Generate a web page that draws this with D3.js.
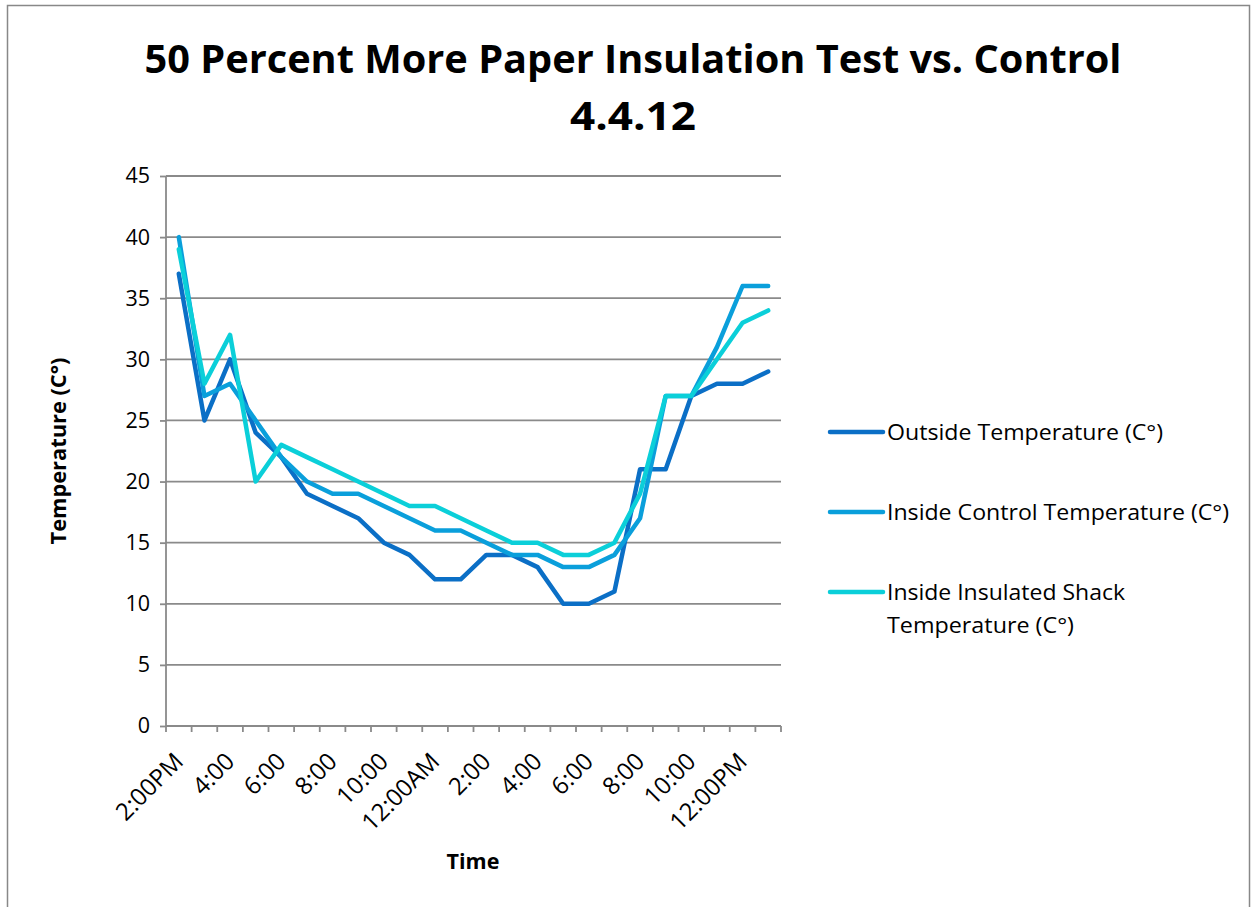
<!DOCTYPE html>
<html><head><meta charset="utf-8">
<script src="https://cdn.jsdelivr.net/npm/d3@7"></script>
<style>body{margin:0;background:#fff;}svg{display:block;}</style>
</head><body>
<svg id="c" width="1256" height="907"></svg>
<script>
const categories = ["2:00PM","3:00","4:00","5:00","6:00","7:00","8:00","9:00","10:00","11:00","12:00AM","1:00","2:00","3:00","4:00","5:00","6:00","7:00","8:00","9:00","10:00","11:00","12:00PM","1:00PM"];
const tickLabels = ["2:00PM","","4:00","","6:00","","8:00","","10:00","","12:00AM","","2:00","","4:00","","6:00","","8:00","","10:00","","12:00PM",""];
const outside   = [37,25,30,24,22,19,18,17,15,14,12,12,14,14,13,10,10,11,21,21,27,28,28,29];
const control   = [40,27,28,25,22,20,19,19,18,17,16,16,15,14,14,13,13,14,17,27,27,31,36,36];
const insulated = [39,28,32,20,23,22,21,20,19,18,18,17,16,15,15,14,14,15,19,27,27,30,33,34];
const seriesNames = ["Outside Temperature (C°)","Inside Control Temperature (C°)","Inside Insulated Shack Temperature (C°)"];
const yTicks = [0,5,10,15,20,25,30,35,40,45];

const colors = ["#0B6FC6","#0A9FDB","#0BCFD9"];
const font = "'Open Sans', 'Liberation Sans', sans-serif";
const svg = d3.select("#c");
svg.append("rect").attr("x",7.5).attr("y",5.5).attr("width",1242).attr("height",940)
  .attr("fill","#fff").attr("stroke","#888").attr("stroke-width",1.5);

const L = 166, R = 781, T = 176, B = 726;
const idx = categories.map((d,i)=>i);
const x = d3.scaleBand().domain(idx).range([L,R]);
const y = d3.scaleLinear().domain([0,45]).range([B,T]);

// gridlines
svg.append("g").selectAll("line").data(yTicks.filter(d=>d>0)).join("line")
  .attr("x1",L).attr("x2",R).attr("y1",d=>y(d)).attr("y2",d=>y(d))
  .attr("stroke","#8a8a8a").attr("stroke-width",1.8);

// y axis
const ya = svg.append("g").attr("transform",`translate(${L},0)`)
  .call(d3.axisLeft(y).tickValues(yTicks).tickSize(6).tickPadding(10));
ya.select(".domain").attr("stroke","#8a8a8a").attr("stroke-width",1.8).attr("d",`M0,${T}V${B}`);
ya.selectAll(".tick line").attr("stroke","#8a8a8a").attr("stroke-width",1.8);
ya.selectAll(".tick text").attr("font-family",font).attr("font-size",21.5).attr("fill","#000");

// x axis
const xa = svg.append("g").attr("transform",`translate(0,${B})`);
xa.append("line").attr("x1",L).attr("x2",R).attr("y1",0).attr("y2",0).attr("stroke","#8a8a8a").attr("stroke-width",1.8);
const tickPos = idx.map(i=>x(i)).concat([R]);
xa.selectAll("line.tk").data(tickPos).join("line").attr("class","tk")
  .attr("x1",d=>d).attr("x2",d=>d).attr("y1",0).attr("y2",6).attr("stroke","#8a8a8a").attr("stroke-width",1.8);
xa.selectAll("text").data(idx.filter(i=>tickLabels[i])).join("text")
  .attr("transform",i=>`translate(${x(i)+x.bandwidth()/2},${31}) rotate(-45)`)
  .attr("text-anchor","end").attr("dy","0.35em")
  .attr("font-family",font).attr("font-size",24).attr("fill","#000")
  .text(i=>tickLabels[i]);

// lines
const data = [outside, control, insulated];
const line = d3.line().x((d,i)=>x(i)+x.bandwidth()/2).y(d=>y(d));
svg.append("g").selectAll("path").data(data).join("path")
  .attr("d",line).attr("fill","none").attr("stroke",(d,i)=>colors[i])
  .attr("stroke-width",4.5).attr("stroke-linejoin","round").attr("stroke-linecap","round");

// title
svg.append("text").attr("x",633).attr("y",73).attr("text-anchor","middle")
  .attr("font-family",font).attr("font-weight","bold").attr("font-size",40)
  .attr("textLength",977).attr("lengthAdjust","spacingAndGlyphs")
  .text("50 Percent More Paper Insulation Test vs. Control");
svg.append("text").attr("x",633).attr("y",130).attr("text-anchor","middle")
  .attr("font-family",font).attr("font-weight","bold").attr("font-size",40)
  .attr("textLength",126).attr("lengthAdjust","spacingAndGlyphs")
  .text("4.4.12");

// axis titles
svg.append("text").attr("transform","translate(66,451) rotate(-90)").attr("text-anchor","middle")
  .attr("font-family",font).attr("font-weight","bold").attr("font-size",21.5)
  .attr("textLength",187).attr("lengthAdjust","spacingAndGlyphs")
  .text("Temperature (C°)");
svg.append("text").attr("x",473).attr("y",869).attr("text-anchor","middle")
  .attr("font-family",font).attr("font-weight","bold").attr("font-size",21.5)
  .text("Time");

// legend
const legY = [432,512,592];
const lg = svg.append("g");
seriesNames.forEach((n,i)=>{
  lg.append("line").attr("x1",830).attr("x2",883).attr("y1",legY[i]).attr("y2",legY[i])
    .attr("stroke",colors[i]).attr("stroke-width",4.5).attr("stroke-linecap","round");
});
const lt = lg.append("g").attr("font-family",font).attr("font-size",22.5).attr("fill","#000");
lt.append("text").attr("x",887).attr("y",440).attr("textLength",276).attr("lengthAdjust","spacingAndGlyphs").text("Outside Temperature (C°)");
lt.append("text").attr("x",887).attr("y",520).attr("textLength",342).attr("lengthAdjust","spacingAndGlyphs").text("Inside Control Temperature (C°)");
lt.append("text").attr("x",887).attr("y",600).attr("textLength",238).attr("lengthAdjust","spacingAndGlyphs").text("Inside Insulated Shack");
lt.append("text").attr("x",887).attr("y",633).attr("textLength",187).attr("lengthAdjust","spacingAndGlyphs").text("Temperature (C°)");
</script>
</body></html>
